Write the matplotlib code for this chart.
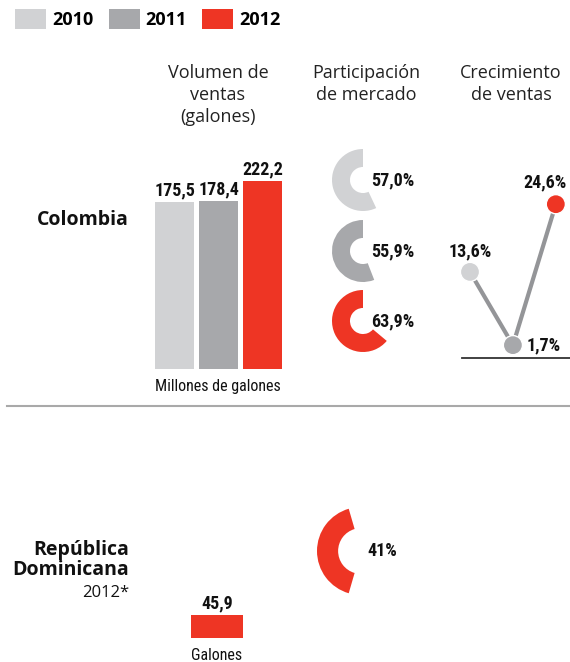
import matplotlib
matplotlib.use('Agg')
import numpy as np
import matplotlib.pyplot as plt
from matplotlib import font_manager
from matplotlib.patches import Patch
from matplotlib.lines import Line2D

# data
years = ['2010', '2011', '2012']
colors = ['#d1d2d4', '#a7a8ab', '#ee3524']
volume = [175.5, 178.4, 222.2]          # millones de galones
volume_labels = ['175,5', '178,4', '222,2']
share = [57.0, 55.9, 63.9]              # participacion de mercado (%)
share_labels = ['57,0%', '55,9%', '63,9%']
growth = [13.6, 1.7, 24.6]              # crecimiento de ventas (%)
growth_labels = ['13,6%', '1,7%', '24,6%']
rd_volume = 45.9
rd_volume_label = '45,9'
rd_share = 41.0
rd_share_label = '41%'

W, H = 570, 662
fig = plt.figure(figsize=(W / 100, H / 100), dpi=100)


def pick(names):
    avail = {f.name for f in font_manager.fontManager.ttflist}
    for n in names:
        if n in avail:
            return n
    return 'DejaVu Sans'


NARROW = pick(['Liberation Sans Narrow', 'Roboto Condensed', 'Liberation Sans'])
SANS = pick(['Open Sans', 'Noto Sans', 'DejaVu Sans'])


def px_axes(x0, y0, x1, y1):
    ax = fig.add_axes([x0 / W, 1 - y1 / H, (x1 - x0) / W, (y1 - y0) / H])
    ax.set_axis_off()
    return ax


def px(x, y):
    return x / W, 1 - y / H


# legend
handles = [Patch(facecolor=c, edgecolor='none', label=y) for c, y in zip(colors, years)]
fig.legend(handles=handles, loc='upper left', bbox_to_anchor=px(15, 9), ncol=3,
           frameon=False, prop={'family': SANS, 'weight': 'bold', 'size': 13},
           handlelength=1.72, handleheight=1.35, handletextpad=0.33,
           columnspacing=0.85, borderaxespad=0, borderpad=0)

# headers
hdr = dict(ha='center', va='top', family=SANS, fontsize=13, color='#222222', linespacing=1.3)
fig.text(*px(218, 64), 'Volumen de\nventas\n(galones)', **hdr)
fig.text(*px(366, 64), 'Participación\nde mercado', **hdr)
fig.text(*px(511, 64), 'Crecimiento\nde ventas', **hdr)

# country labels
fig.text(*px(129, 220), 'Colombia', ha='right', va='center', family=SANS,
         fontweight='bold', fontsize=14, color='#111111')
fig.text(*px(129, 560), 'República\nDominicana', ha='right', va='center', family=SANS,
         fontweight='bold', fontsize=14, color='#111111', linespacing=1.05)
fig.text(*px(129, 593), '2012*', ha='right', va='center', family=SANS,
         fontsize=12, color='#111111')

# volume bars (truncated scale)
base = -196
ax_bar = px_axes(152.5, 140, 284.5, 369)
ax_bar.set_xlim(-0.5, 2.5)
ax_bar.set_ylim(base, base + (369 - 140) / 0.45)
xb = np.arange(len(volume))
ax_bar.bar(xb, np.array(volume) - base, bottom=base, width=0.87, color=colors)
for i, v in enumerate(volume):
    ax_bar.annotate(volume_labels[i], (xb[i], v), xytext=(0, 1.5), textcoords='offset points',
                    ha='center', va='bottom', family=NARROW, fontweight='bold',
                    fontsize=13, color='#111111')
fig.text(*px(218, 386), 'Millones de galones', ha='center', va='center',
         family=NARROW, fontsize=11.5, color='#111111')

# separator
fig.add_artist(Line2D([7 / W, 1], [1 - 406 / H] * 2, color='#a9a9a9', lw=1.5))


# donuts
def donut(cx, cy, r, width, pct, color, start):
    ax = px_axes(cx - r, cy - r, cx + r, cy + r)
    ax.pie([pct, 100 - pct], colors=[color, 'none'], startangle=start, counterclock=True,
           wedgeprops=dict(width=width, linewidth=0))
    ax.set_xlim(-1, 1)
    ax.set_ylim(-1, 1)
    ax.set_aspect('equal')
    return ax


for i, (s, lab) in enumerate(zip(share, share_labels)):
    cy = [180, 251, 321][i]
    ax = donut(363, cy, 31, 0.58, s, colors[i], 90)
    ax.text(0.26, 0, lab, ha='left', va='center', family=NARROW, fontweight='bold',
            fontsize=13, color='#111111')

ax = donut(361, 551, 44, 0.48, rd_share, colors[2], 180 - rd_share * 1.8)
ax.text(0.14, 0, rd_share_label, ha='left', va='center', family=NARROW, fontweight='bold',
        fontsize=13, color='#111111')

# growth line
ax_g = fig.add_axes([462 / W, 1 - 358 / H, (570 - 462) / W, (358 - 160) / H])
ax_g.set_xlim(-0.186, 2.33)
ax_g.set_ylim((355.6 - 358) / 6.155, (355.6 - 160) / 6.155)
for sp in ['top', 'left', 'right']:
    ax_g.spines[sp].set_visible(False)
ax_g.spines['bottom'].set_color('#333333')
ax_g.spines['bottom'].set_linewidth(1.3)
ax_g.set_xticks([])
ax_g.set_yticks([])
ax_g.patch.set_alpha(0)
xg = np.arange(len(growth))
ax_g.plot(xg, growth, color='#949598', lw=3, solid_capstyle='butt', zorder=2, clip_on=False)
ax_g.scatter(xg, growth, s=190, c=colors, edgecolors='white', linewidths=1,
             zorder=3, clip_on=False)
offs = [((0, 8), 'center', 'bottom'), ((10, 0), 'left', 'center'), ((-8, 9), 'center', 'bottom')]
for i, g in enumerate(growth):
    o, ha, va = offs[i]
    ax_g.annotate(growth_labels[i], (xg[i], g), xytext=o, textcoords='offset points',
                  ha=ha, va=va, family=NARROW, fontweight='bold', fontsize=13, color='#111111')

# RD volume bar
ax_rd = px_axes(191, 590, 243, 638)
ax_rd.set_xlim(-0.5, 0.5)
ax_rd.set_ylim(0, rd_volume * 48 / 23)
ax_rd.bar([0], [rd_volume], width=1, color=colors[2])
ax_rd.annotate(rd_volume_label, (0, rd_volume), xytext=(0, 2), textcoords='offset points',
               ha='center', va='bottom', family=NARROW, fontweight='bold',
               fontsize=13, color='#111111')
fig.text(*px(217, 655), 'Galones', ha='center', va='center', family=NARROW,
         fontsize=11.5, color='#111111')

fig.savefig('out.png', dpi=100, facecolor='white')
